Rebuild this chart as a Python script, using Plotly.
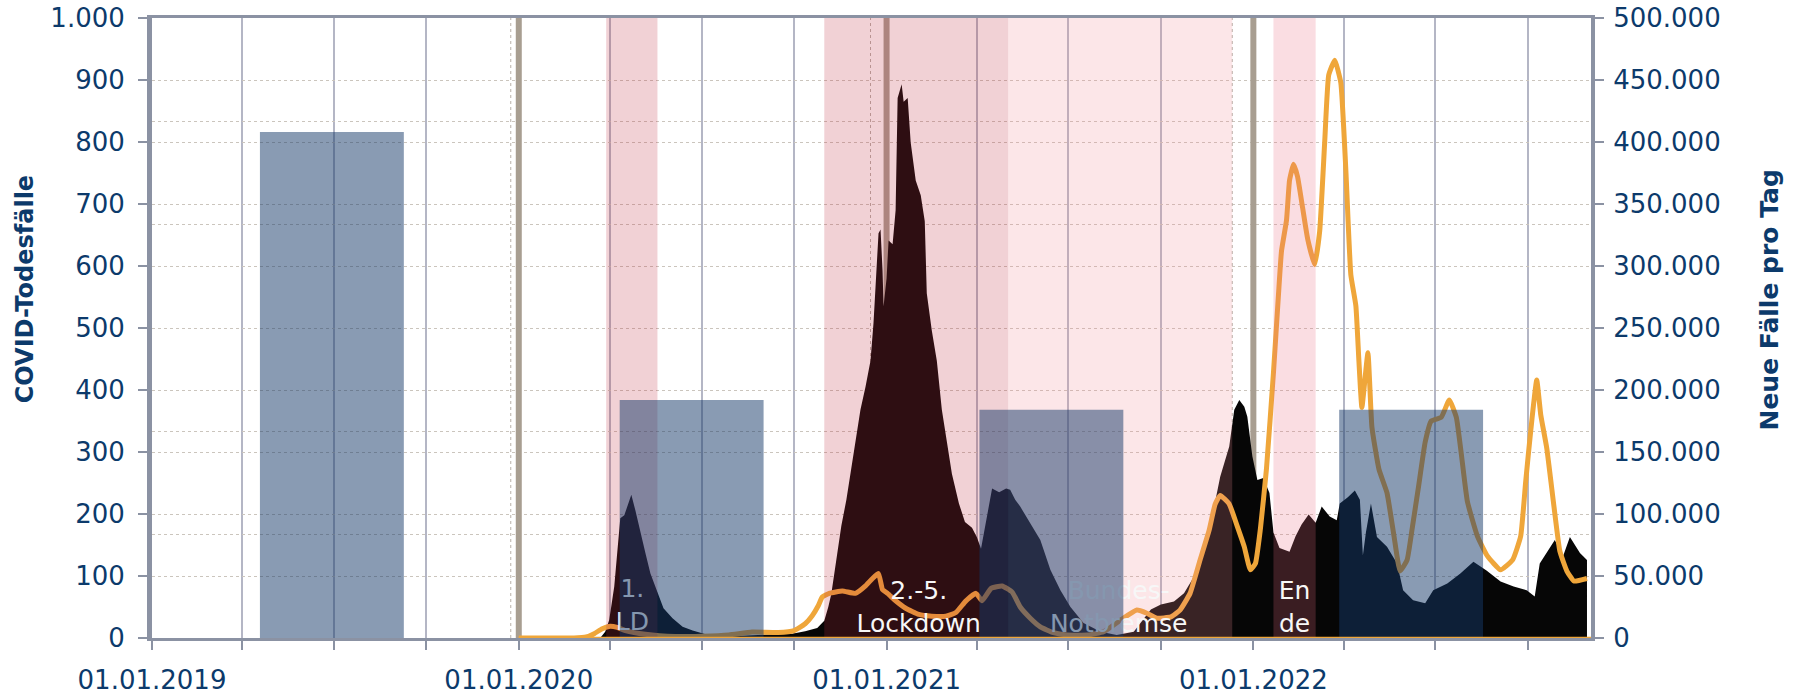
import plotly.graph_objects as go

# ---------------- data ----------------
death_dates = ["2020-01-01","2020-03-22","2020-03-27","2020-03-31","2020-04-05","2020-04-08","2020-04-11","2020-04-15",
 "2020-04-18","2020-04-22","2020-04-26","2020-05-01","2020-05-06","2020-05-11","2020-05-18","2020-05-24","2020-06-02",
 "2020-06-12","2020-06-22","2020-07-05","2020-07-28","2020-08-30","2020-09-29","2020-10-12","2020-10-24","2020-10-31",
 "2020-11-04","2020-11-07","2020-11-12","2020-11-17","2020-11-22","2020-11-26","2020-12-01","2020-12-06","2020-12-11",
 "2020-12-16","2020-12-19","2020-12-22","2020-12-24","2020-12-26","2020-12-28","2020-12-29","2021-01-01","2021-01-03",
 "2021-01-07","2021-01-10","2021-01-12","2021-01-16","2021-01-18","2021-01-22","2021-01-25","2021-01-30","2021-02-04",
 "2021-02-08","2021-02-10","2021-02-15","2021-02-20","2021-02-25","2021-03-02","2021-03-07","2021-03-14","2021-03-20",
 "2021-03-27","2021-04-01","2021-04-05","2021-04-11","2021-04-16","2021-04-23","2021-04-30","2021-05-04","2021-05-09",
 "2021-05-14","2021-05-24","2021-06-03","2021-06-13","2021-06-23","2021-07-03","2021-07-16","2021-08-02","2021-08-18",
 "2021-09-04","2021-09-21","2021-10-01","2021-10-14","2021-10-24","2021-11-03","2021-11-13","2021-11-23","2021-11-29",
 "2021-12-08","2021-12-13","2021-12-18","2021-12-23","2021-12-26","2021-12-31","2022-01-05","2022-01-11","2022-01-17",
 "2022-01-21","2022-01-27","2022-02-06","2022-02-12","2022-02-18","2022-02-25","2022-03-04","2022-03-10","2022-03-18",
 "2022-03-25","2022-03-28","2022-04-05","2022-04-12","2022-04-17","2022-04-20","2022-04-23","2022-04-28","2022-05-04",
 "2022-05-14","2022-05-24","2022-05-30","2022-06-09","2022-06-21","2022-06-29","2022-07-13","2022-07-26","2022-08-08",
 "2022-08-21","2022-09-04","2022-09-17","2022-09-30","2022-10-08","2022-10-13","2022-10-28","2022-11-05","2022-11-12",
 "2022-11-22","2022-11-29"]
deaths = [0,0,10,29,83,137,193,198,
 212,231,206,169,137,104,72,48,32,
 18,12,6,3,5,7,11,16,28,
 50,71,126,181,223,265,320,368,405,
 447,508,605,653,659,593,535,580,641,
 635,690,871,893,865,871,799,738,714,
 672,556,496,447,368,314,265,217,187,
 178,162,144,196,241,235,241,239,223,
 212,185,158,110,77,50,24,10,5,
 10,46,54,59,72,99,147,212,260,
 309,368,384,373,357,293,255,258,234,
 170,145,139,164,183,199,186,212,196,
 190,217,227,238,223,133,170,217,163,
 147,120,77,61,56,77,88,104,123,
 109,91,83,77,67,120,158,131,163,
 137,126]

case_dates = ["2020-01-01","2020-02-25","2020-03-08","2020-03-16","2020-03-24","2020-04-01","2020-04-08","2020-04-16",
 "2020-05-06","2020-06-05","2020-07-01","2020-07-28","2020-08-20","2020-09-15","2020-10-01","2020-10-12","2020-10-19",
 "2020-10-25","2020-10-29","2020-11-05","2020-11-18","2020-12-01","2020-12-11","2020-12-18","2020-12-24","2020-12-28",
 "2021-01-02","2021-01-10","2021-01-20","2021-02-02","2021-02-15","2021-03-01","2021-03-11","2021-03-21","2021-03-31",
 "2021-04-06","2021-04-15","2021-04-26","2021-05-06","2021-05-14","2021-05-24","2021-06-03","2021-06-16","2021-06-30",
 "2021-07-20","2021-08-05","2021-08-22","2021-09-07","2021-09-17","2021-09-27","2021-10-11","2021-10-20","2021-10-30",
 "2021-11-09","2021-11-18","2021-11-24","2021-11-29","2021-12-08","2021-12-16","2021-12-23","2021-12-29","2022-01-03",
 "2022-01-08","2022-01-14","2022-01-21","2022-01-26","2022-01-29","2022-02-03","2022-02-06","2022-02-10","2022-02-14",
 "2022-02-19","2022-02-24","2022-03-03","2022-03-08","2022-03-13","2022-03-17","2022-03-23","2022-03-29","2022-04-03",
 "2022-04-08","2022-04-13","2022-04-16","2022-04-19","2022-04-25","2022-04-29","2022-05-06","2022-05-14","2022-05-21",
 "2022-05-27","2022-06-03","2022-06-08","2022-06-14","2022-06-21","2022-06-27","2022-07-07","2022-07-15","2022-07-22",
 "2022-07-27","2022-08-02","2022-08-12","2022-08-22","2022-09-04","2022-09-16","2022-09-24","2022-09-29","2022-10-04",
 "2022-10-10","2022-10-14","2022-10-20","2022-10-27","2022-11-02","2022-11-09","2022-11-16","2022-11-29"]
cases = [0,100,800,3500,7500,9500,8500,6000,
 3000,1200,1500,2500,4800,4500,6000,11500,18000,
 26000,33000,36000,38000,36000,42000,48000,52000,39000,
 36000,30000,24000,19000,17600,17600,20600,30000,36000,
 30000,40000,42000,37000,25000,16000,9000,4300,2400,
 2400,5000,14500,22500,20000,16000,17000,22500,36000,
 63000,87000,108000,115000,108000,90000,73500,55000,60000,
 88000,136000,214000,277000,312000,337000,369000,382000,372000,
 347000,322000,301000,328000,400000,454000,466000,448000,378000,
 293000,268000,224000,186000,230000,170000,136000,117000,82000,
 54000,63000,88000,120000,158000,175000,178000,192000,178000,
 148000,110000,82000,66000,55000,63000,82000,126000,167000,
 208000,180000,153000,107000,70000,54000,46000,48000]

bar_years = ["2019", "2020", "2021", "2022"]
bar_heights = [816, 384, 368, 368]
bar_values = ["19,9", "17,3", "17,2", "17,2"]

band_starts = ["2020-03-28", "2020-10-31", "2021-05-02", "2022-01-21"]
band_ends = ["2020-05-18", "2021-05-02", "2021-12-11", "2022-03-04"]
band_colors = ["rgba(190,45,64,0.22)", "rgba(190,45,64,0.22)",
               "rgba(240,140,150,0.22)", "rgba(233,110,128,0.23)"]

label_texts = ["1.<br>LD", "2.-5.<br>Lockdown", "Bundes-<br>Notbremse", "En<br>de"]
label_dates = ["2020-04-23", "2021-02-02", "2021-08-20", "2022-02-11"]
label_levels = [50, 46, 46, 46]

year_lines = ["2020-01-01", "2021-01-01", "2022-01-01"]
marker_lines = ["2019-12-24", "2020-12-16", "2021-12-11"]

x_start, x_end = "2019-01-01", "2022-12-03"
tick_dates = [f"{y}-{m:02d}-01" for y in (2019, 2020, 2021, 2022) for m in (1, 4, 7, 10)]
tick_text = [f"01.01.{d[:4]}" if d[5:7] == "01" else "" for d in tick_dates]

left_title = "COVID-Todesfälle"
right_title = "Neue Fälle pro Tag"

# ---------------- styles ----------------
NAVY = "#0c3a6b"
AXIS = "#8b92a3"
ORANGE = "#efa63a"
FONT = "DejaVu Sans"
Y_MAX = 1000

fig = go.Figure()

# deaths area (left axis)
fig.add_trace(go.Scatter(x=death_dates, y=deaths, mode="lines", fill="tozeroy",
                         line=dict(width=0, color="#060606"), fillcolor="#060606",
                         xaxis="x", yaxis="y", hoverinfo="skip", showlegend=False))
# cases line (right axis)
fig.add_trace(go.Scatter(x=case_dates, y=cases, mode="lines",
                         line=dict(width=5, color=ORANGE, shape="spline", smoothing=0.4),
                         xaxis="x", yaxis="y2", hoverinfo="skip", showlegend=False))
# shaded bands
for s, e, c in zip(band_starts, band_ends, band_colors):
    fig.add_trace(go.Scatter(x=[s, s, e, e, s], y=[0, Y_MAX, Y_MAX, 0, 0], mode="lines",
                             fill="toself", fillcolor=c, line=dict(width=0),
                             xaxis="x", yaxis="y3", hoverinfo="skip", showlegend=False))
# band labels
fig.add_trace(go.Scatter(x=label_dates, y=label_levels, mode="text", text=label_texts,
                         textposition="middle center",
                         textfont=dict(family=FONT, size=25, color="#f7f7f7"),
                         xaxis="x", yaxis="y3", hoverinfo="skip", showlegend=False))
# yearly bars
fig.add_trace(go.Bar(x=bar_years, y=bar_heights, marker=dict(color="rgba(20,56,104,0.5)", line=dict(width=0)),
                     xaxis="x2", yaxis="y4", hoverinfo="skip", showlegend=False))

annotations = []
for yr, h, v in zip(bar_years, bar_heights, bar_values):
    annotations.append(dict(x=yr, y=h, xref="x2", yref="y4", text=yr, showarrow=False,
                            yanchor="middle", yshift=64,
                            font=dict(family=FONT, size=26, color=NAVY, weight="bold")))
    annotations.append(dict(x=yr, y=h, xref="x2", yref="y4", text=v, showarrow=False,
                            yanchor="middle", yshift=26,
                            font=dict(family=FONT, size=26, color=NAVY, weight="bold")))
annotations.append(dict(x=-0.088, y=0.563, xref="paper", yref="paper", text=left_title,
                        textangle=-90, showarrow=False, xanchor="center", yanchor="middle",
                        font=dict(family=FONT, size=24, color=NAVY, weight="bold")))
annotations.append(dict(x=1.124, y=0.545, xref="paper", yref="paper", text=right_title,
                        textangle=-90, showarrow=False, xanchor="center", yanchor="middle",
                        font=dict(family=FONT, size=25, color=NAVY, weight="bold")))

shapes = []
for d in year_lines:
    shapes.append(dict(type="line", xref="x", yref="y", x0=d, x1=d, y0=0, y1=Y_MAX,
                       layer="between", line=dict(color="#a89e91", width=6)))
for d in marker_lines:
    shapes.append(dict(type="line", xref="x", yref="y", x0=d, x1=d, y0=0, y1=Y_MAX,
                       layer="between", line=dict(color="#b8b0a8", width=1, dash="dot")))
shapes.append(dict(type="line", xref="x", yref="y", x0=case_dates[0], x1=x_end, y0=0, y1=0,
                   layer="above", line=dict(color=ORANGE, width=2.5)))

tickfont = dict(family=FONT, size=26, color=NAVY)

fig.update_layout(
    width=1797, height=694,
    margin=dict(l=152, r=206, t=18, b=56),
    template="none",
    paper_bgcolor="white", plot_bgcolor="white",
    separators=",.",
    bargap=0.6,
    showlegend=False,
    shapes=shapes,
    annotations=annotations,
    xaxis=dict(type="date", range=[x_start, x_end], tickvals=tick_dates, ticktext=tick_text,
               ticks="outside", ticklen=9, tickwidth=2, tickcolor=AXIS, ticklabelstandoff=8,
               showgrid=True, gridcolor="#b4b6c5", gridwidth=2,
               showline=True, linecolor=AXIS, linewidth=3, mirror=True,
               zeroline=False, tickfont=tickfont, automargin=False),
    xaxis2=dict(type="category", overlaying="x", range=[-0.5, 3.5], visible=False),
    yaxis=dict(range=[0, Y_MAX], dtick=100, tickformat=",d",
               ticks="outside", ticklen=9, tickwidth=2, tickcolor=AXIS, ticklabelstandoff=8,
               showgrid=True, gridcolor="#cbc5bd", gridwidth=1, griddash="dot",
               showline=True, linecolor=AXIS, linewidth=5, zeroline=False,
               tickfont=tickfont, automargin=False),
    yaxis2=dict(range=[0, 500000], dtick=50000, tickformat=",d", overlaying="y", side="right",
                ticks="outside", ticklen=9, tickwidth=2, tickcolor=AXIS, ticklabelstandoff=4,
                showgrid=False, showline=True, linecolor=AXIS, linewidth=4, zeroline=False,
                tickfont=tickfont, automargin=False),
    yaxis3=dict(range=[0, Y_MAX], overlaying="y", visible=False),
    yaxis4=dict(range=[0, Y_MAX], overlaying="y", tick0=0, dtick=Y_MAX / 6,
                showgrid=True, gridcolor="#cbc5bd", gridwidth=1, griddash="dot",
                showticklabels=False, ticks="", showline=False, zeroline=False, automargin=False),
)

fig.write_html("out.html", config={"displayModeBar": False},
               post_script="document.body.style.margin='0';")
